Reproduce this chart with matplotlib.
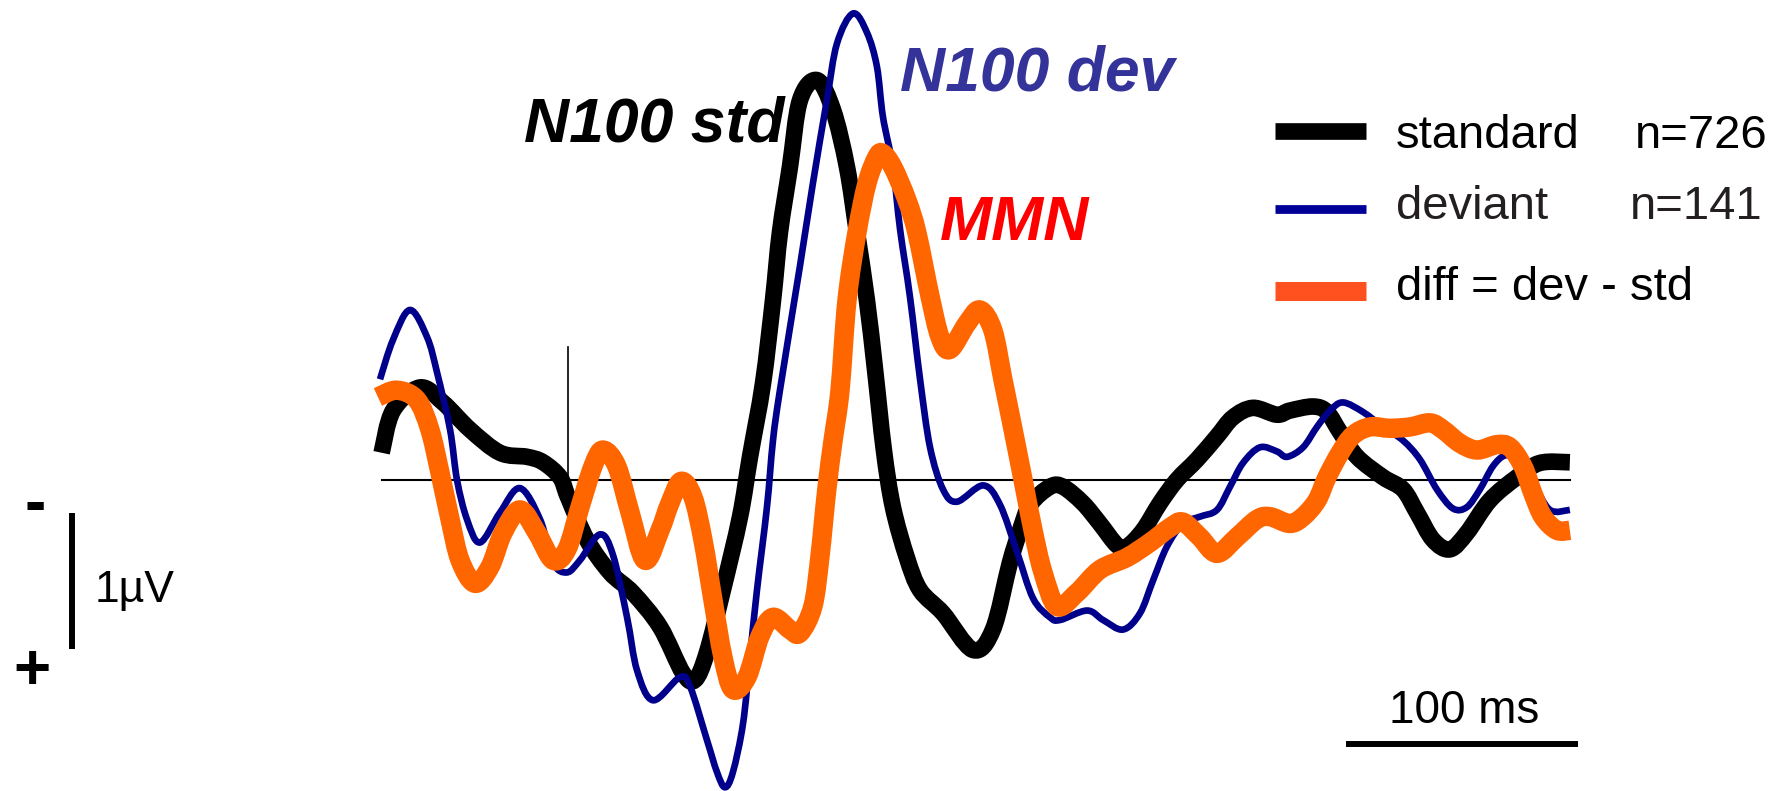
import matplotlib
matplotlib.use("Agg")
import matplotlib.pyplot as plt
import numpy as np
from matplotlib.path import Path
from matplotlib.patches import PathPatch

plt.rcParams['font.family'] = ['Liberation Sans', 'DejaVu Sans']

# ERP traces, time in ms, amplitude in microvolts (negative plotted up)
t_std = [-80.2, -75.3, -63.7, -53.8, -42.1, -29.2, -17.5, -10.6, -3.3, 0.1, 8.3, 18.2,
         28.1, 39.8, 49.7, 54.9, 60.0, 66.9, 74.3, 78.6, 84.2, 88.5, 91.5, 95.8, 100.1,
         107.5, 114.4, 120.4, 124.7, 129.0, 132.5, 136.3, 140.2, 146.2, 151.9, 161.8,
         174.7, 183.3, 190.6, 195.0, 199.4, 207.9, 213.5, 222.1, 229.4, 236.8, 241.1,
         248.0, 255.3, 262.6, 271.3, 279.9, 286.8, 295.4, 305.7, 311.3, 321.3, 327.3,
         333.0, 340.3, 351.5, 360.1, 366.1, 373.0, 380.3, 387.6, 397.5, 409.2, 419.1, 432.0]
v_std = [-0.20, -0.51, -0.68, -0.57, -0.37, -0.20, -0.17, -0.13, -0.02, 0.125, 0.44, 0.68,
         0.83, 1.08, 1.42, 1.47, 1.27, 0.81, 0.27, -0.17, -0.71, -1.32, -1.82, -2.30, -2.79,
         -2.94, -2.72, -2.30, -1.82, -1.32, -0.81, -0.22, 0.20, 0.57, 0.81, 0.98,
         1.25, 1.10, 0.61, 0.37, 0.18, 0.05, 0.05, 0.17, 0.32, 0.48, 0.49,
         0.37, 0.17, 0.0, -0.15, -0.32, -0.46, -0.53, -0.48, -0.51, -0.54, -0.50,
         -0.35, -0.17, -0.02, 0.07, 0.24, 0.44, 0.51, 0.39, 0.15, -0.02, -0.125, -0.13]

t_dev = [-80.9, -75.3, -68.0, -60.6, -56.3, -50.7, -47.7, -43.4, -37.8, -29.2, -20.6, -11.9,
         -6.3, -0.3, 5.3, 13.9, 19.5, 25.6, 29.9, 36.8, 48.4, 52.8, 60.0, 64.4, 67.8, 71.2,
         75.6, 78.6, 81.6, 85.9, 88.5, 91.5, 100.1, 105.7, 111.7, 116.1, 123.0, 129.0,
         133.3, 135.9, 140.2, 143.3, 147.6, 151.9, 156.2, 161.8, 167.8, 179.1, 186.3,
         193.7, 200.6, 207.9, 212.2, 223.9, 230.8, 239.4, 246.7, 252.3, 258.3, 265.2,
         272.5, 279.9, 285.5, 291.1, 298.4, 305.7, 310.1, 317.0, 323.0, 328.6, 334.2,
         342.8, 351.5, 360.1, 367.4, 374.7, 381.6, 387.6, 393.2, 398.8, 404.0, 409.2,
         416.1, 423.4, 432.0]
v_dev = [-0.74, -1.03, -1.25, -1.05, -0.79, -0.37, 0.0, 0.29, 0.46, 0.24, 0.06, 0.29,
         0.61, 0.68, 0.59, 0.40, 0.55, 1.01, 1.40, 1.62, 1.45, 1.52, 1.91, 2.15, 2.26, 2.15,
         1.79, 1.30, 0.81, 0.20, -0.29, -0.66, -1.57, -2.18, -2.79, -3.21, -3.43, -3.29,
         -3.04, -2.67, -2.30, -1.84, -1.34, -0.74, -0.24, 0.07, 0.16, 0.04, 0.18,
         0.53, 0.87, 1.01, 1.03, 0.96, 1.03, 1.10, 0.98, 0.74, 0.49, 0.32,
         0.27, 0.22, 0.05, -0.125, -0.24, -0.21, -0.17, -0.24, -0.39, -0.51, -0.57,
         -0.50, -0.39, -0.29, -0.15, 0.07, 0.21, 0.20, 0.07, -0.10, -0.18, -0.15,
         0.02, 0.22, 0.22]

t_diff = [-81.8, -73.6, -65.0, -59.4, -55.0, -50.7, -46.4, -40.0, -33.5, -27.9, -20.6, -13.2,
          -6.3, -0.3, 5.3, 10.9, 15.2, 21.2, 26.9, 33.3, 39.8, 44.1, 48.9, 54.0, 58.3,
          62.6, 66.9, 71.2, 77.3, 82.9, 88.5, 95.8, 100.1, 105.7, 108.7, 111.7, 114.4,
          117.4, 120.4, 124.7, 129.0, 133.3, 135.9, 140.2, 146.2, 150.5, 156.2, 160.5,
          164.8, 172.1, 177.7, 183.3, 187.6, 192.0, 196.3, 200.6, 204.9, 210.9, 219.5,
          229.4, 241.1, 251.0, 259.6, 265.2, 272.5, 279.9, 288.5, 297.1, 302.7, 311.3,
          317.0, 323.0, 327.3, 333.0, 338.6, 345.9, 354.4, 363.1, 371.7, 377.3, 384.6,
          392.0, 400.6, 406.2, 411.8, 416.1, 420.4, 426.4, 432.0]
v_diff = [-0.61, -0.66, -0.59, -0.37, -0.05, 0.29, 0.59, 0.76, 0.64, 0.39, 0.22, 0.39,
          0.59, 0.51, 0.20, -0.10, -0.22, -0.10, 0.24, 0.59, 0.37, 0.17, 0.01, 0.125, 0.44,
          0.88, 1.30, 1.54, 1.45, 1.15, 1.01, 1.10, 1.125, 0.93, 0.57, 0.07, -0.29,
          -0.66, -1.32, -1.82, -2.18, -2.375, -2.40, -2.30, -2.06, -1.82, -1.35, -1.05,
          -0.96, -1.15, -1.25, -1.10, -0.74, -0.37, 0.0, 0.37, 0.68, 0.93, 0.83,
          0.66, 0.57, 0.46, 0.35, 0.31, 0.42, 0.54, 0.42, 0.29, 0.27, 0.32,
          0.27, 0.15, -0.02, -0.20, -0.33, -0.39, -0.38, -0.39, -0.42, -0.37, -0.27,
          -0.22, -0.26, -0.24, -0.10, 0.10, 0.27, 0.37, 0.37]

legend_labels = ['standard', 'deviant', 'diff = dev - std']
legend_counts = ['n=726', 'n=141', '']


def smooth_trace(ax, t, v, **kw):
    # draw the read points as a smooth bezier path (catmull-rom style tangents)
    p = np.column_stack([t, v])
    n = len(p)
    verts = [p[0]]
    codes = [Path.MOVETO]
    for i in range(n - 1):
        p0 = p[max(i - 1, 0)]
        p1 = p[i]
        p2 = p[i + 1]
        p3 = p[min(i + 2, n - 1)]
        verts += [p1 + (p2 - p0) / 6.0, p2 - (p3 - p1) / 6.0, p2]
        codes += [Path.CURVE4] * 3
    patch = PathPatch(Path(verts, codes), fill=False, capstyle='butt',
                      joinstyle='round', **kw)
    ax.add_patch(patch)


fig = plt.figure(figsize=(17.87, 7.91), dpi=100)
ax = fig.add_axes([0, 0, 1, 1])
ax.set_xlim(-244.7, 525.6)
ax.set_ylim(2.287, -3.529)  # negative up
ax.axis('off')

# baseline and stimulus onset
ax.plot([-80, 432], [0, 0], color='black', lw=1.5)
ax.plot([0, 0], [-0.98, 0], color='black', lw=1.2)

smooth_trace(ax, t_std, v_std, edgecolor='black', lw=12, zorder=3)
smooth_trace(ax, t_dev, v_dev, edgecolor='#00008b', lw=4.8, zorder=4)
smooth_trace(ax, t_diff, v_diff, edgecolor='#ff6600', lw=14, zorder=5)

# scale bars
ax.plot([-213.7, -213.7], [0.243, 1.243], color='black', lw=4.3, solid_capstyle='butt')
ax.plot([335.5, 435.5], [1.94, 1.94], color='black', lw=4.3, solid_capstyle='butt')
ax.text(-203.8, 0.90, '1µV', fontsize=32, va='baseline', ha='left')
ax.text(-229.6, 0.32, '-', fontsize=46, fontweight='bold', va='baseline', ha='center')
ax.text(-231.1, 1.54, '+', fontsize=46, fontweight='bold', va='baseline', ha='center')
ax.text(354.0, 1.79, '100 ms', fontsize=33, va='baseline', ha='left')

# component labels
ax.text(-18.8, -2.49, 'N100 std', fontsize=45, fontweight='bold', fontstyle='italic',
        color='black', va='baseline', ha='left', zorder=6)
ax.text(143.3, -2.86, 'N100 dev', fontsize=45, fontweight='bold', fontstyle='italic',
        color='#333399', va='baseline', ha='left', zorder=6)
ax.text(160.5, -1.765, 'MMN', fontsize=45, fontweight='bold', fontstyle='italic',
        color='#ff0000', va='baseline', ha='left', zorder=6)

# legend drawn by hand
leg_colors = ['black', '#000099', '#ff5020']
leg_widths = [12, 6.3, 13.7]
leg_line_y = [0.8338, 0.7364, 0.6327]
leg_text_y = [0.8129, 0.7231, 0.6207]
leg_count_x = [0.9149, 0.9121, 0.0]
leg_text_col = ['black', '#231f20', 'black']
for i in range(3):
    ax.plot([0.7135, 0.7644], [leg_line_y[i]] * 2, transform=ax.transAxes,
            color=leg_colors[i], lw=leg_widths[i], solid_capstyle='butt')
    ax.text(0.7812, leg_text_y[i], legend_labels[i], transform=ax.transAxes,
            fontsize=34, color=leg_text_col[i], va='baseline', ha='left')
    if legend_counts[i]:
        ax.text(leg_count_x[i], leg_text_y[i], legend_counts[i], transform=ax.transAxes,
                fontsize=34, color=leg_text_col[i], va='baseline', ha='left')

fig.savefig('out.png', dpi=100)
